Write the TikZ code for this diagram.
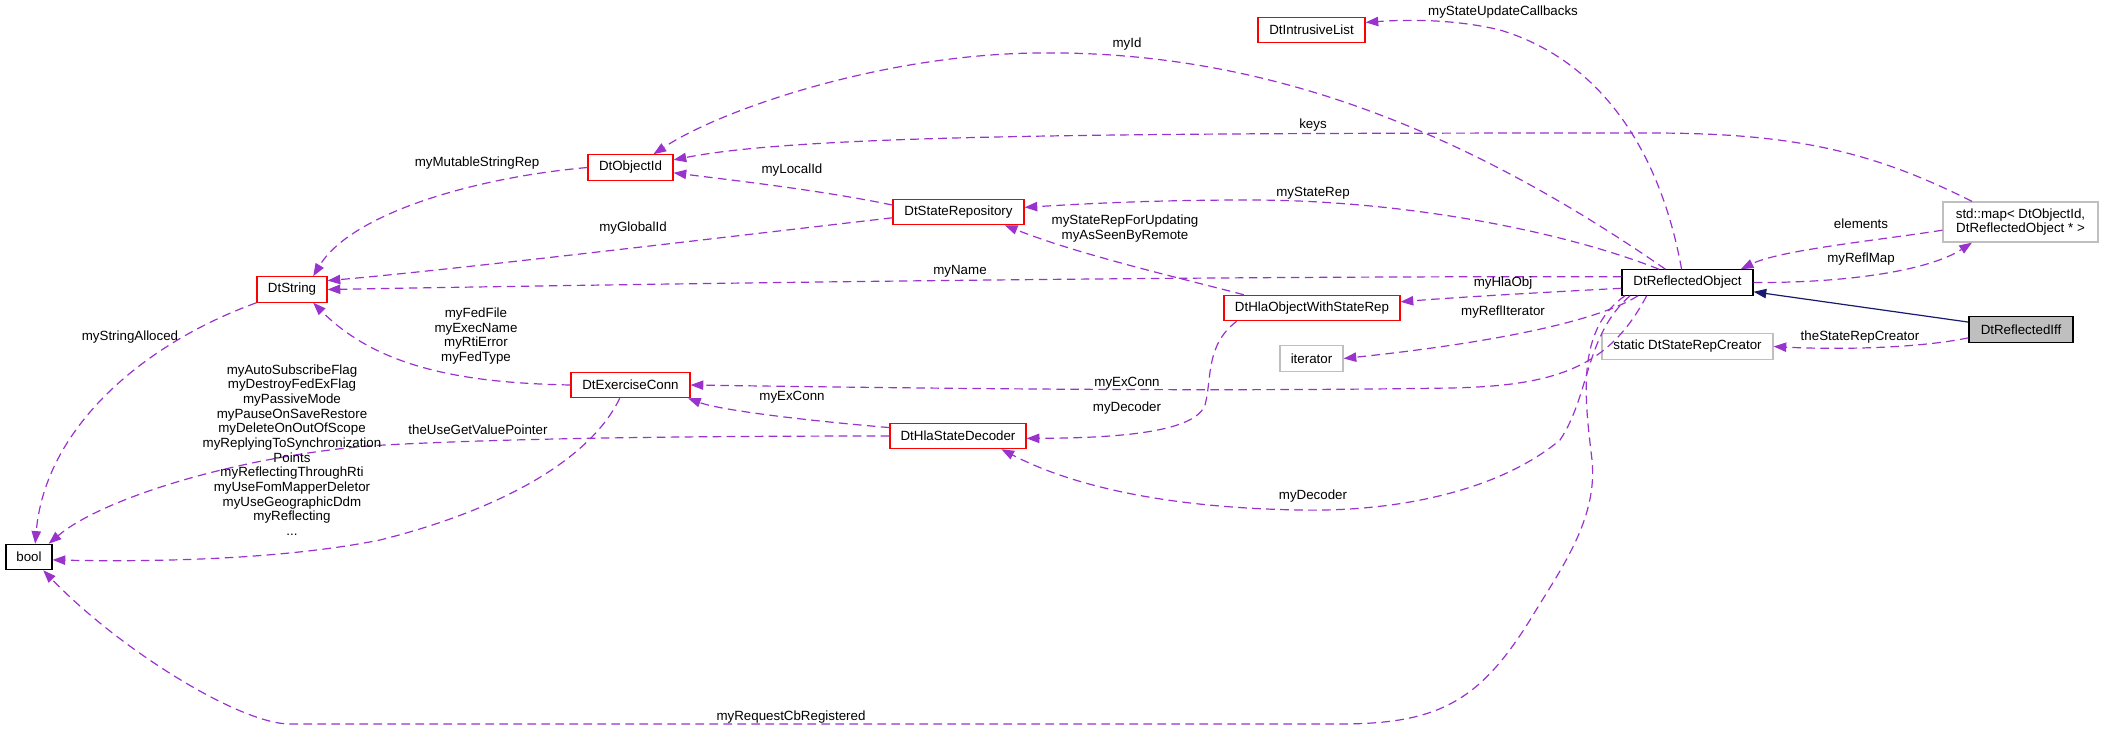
\documentclass[tikz,border=0pt]{standalone}
\usepackage{fontspec}
\setmainfont{Liberation Sans}
\usetikzlibrary{arrows.meta}
\definecolor{edgepurple}{HTML}{9A32CD}
\definecolor{navyblue}{HTML}{191970}
\definecolor{boxgrey}{HTML}{BFBFBF}
\begin{document}
\begin{tikzpicture}[x=0.75pt,y=-0.75pt]
			\tikzstyle{cls}=[rectangle,draw=black,line width=0.9pt,minimum height=19pt,inner sep=2pt,font=\fontsize{10}{11}\selectfont]
			\tikzstyle{redcls}=[cls,draw=red]
			\tikzstyle{extcls}=[cls,draw=boxgrey]
			\tikzstyle{member}=[edgepurple,line width=0.9pt,dash pattern=on 6.5pt off 4pt,-{Triangle[length=9.5pt,width=7pt]}]
			\tikzstyle{derive}=[navyblue,line width=0.9pt,-{Triangle[length=9.5pt,width=7pt]}]
			\tikzstyle{lbl}=[inner sep=0pt,align=center,font=\fontsize{10}{11}\selectfont]
			\useasboundingbox (0,0) rectangle (2104,731);
			\begin{scope}
			\node[redcls,minimum width=80.25pt] (DtIntrusiveList) at (1311.5,30) {DtIntrusiveList};
			\node[redcls,minimum width=63.75pt] (DtObjectId) at (630.5,167.5) {DtObjectId};
			\node[redcls,minimum width=98.25pt] (DtStateRepository) at (958.5,212) {DtStateRepository};
			\node[redcls,minimum width=52.5pt] (DtString) at (292,289.5) {DtString};
			\node[cls,minimum width=98.25pt] (DtReflectedObject) at (1687.5,282.5) {DtReflectedObject};
			\node[extcls,minimum width=116.25pt,minimum height=30pt,align=center] (stdmap) at (2020.5,222) {std::map< DtObjectId,\\DtReflectedObject * >};
			\node[redcls,minimum width=132pt] (DtHlaObjectWithStateRep) at (1312,308) {DtHlaObjectWithStateRep};
			\node[extcls,minimum width=47.25pt] (iterator) at (1311.5,358.5) {iterator};
			\node[extcls,minimum width=128.25pt] (DtStateRepCreator) at (1687.5,346.5) {static DtStateRepCreator};
			\node[cls,fill=boxgrey,minimum width=78pt] (DtReflectedIff) at (2021,329.5) {DtReflectedIff};
			\node[redcls,minimum width=89.25pt] (DtExerciseConn) at (630.5,385) {DtExerciseConn};
			\node[redcls,minimum width=102pt] (DtHlaStateDecoder) at (958,436) {DtHlaStateDecoder};
			\node[cls,minimum width=34.5pt] (bool) at (29,557) {bool};
			\end{scope}
			
			\draw[member] (DtObjectId.west) .. controls (470,178) and (350,215) .. (DtString.32);
			\draw[member] (DtStateRepository.185) .. controls (700,240) and (450,270) .. (DtString.14);
			\draw[member] (DtReflectedObject.175) .. controls (1200,276) and (700,283) .. (DtString.east);
			\draw[member] (DtExerciseConn.west) .. controls (470,383) and (380,370) .. (DtString.-32);
			\draw[member] (DtString.south west) .. controls (140,345) and (45,430) .. (bool.65);
			\draw[member] (DtExerciseConn.-129) .. controls (590,460) and (500,510) .. (380,540) .. controls (280,560) and (150,562) .. (bool.-7);
			\draw[member] (DtHlaStateDecoder.west) .. controls (700,436) and (500,438) .. (367,446) .. controls (230,458) and (100,500) .. (bool.34);
			\draw[member] (DtHlaStateDecoder.173) .. controls (800,420) and (720,410) .. (DtExerciseConn.-13);
			\draw[member] (DtReflectedObject.198) .. controls (1610,365) and (1560,386) .. (1450,388) .. controls (1200,392) and (900,388) .. (DtExerciseConn.east);
			\draw[member] (DtReflectedObject.193) .. controls (1585,335) and (1590,395) .. (1560,440) .. controls (1500,490) and (1400,512) .. (1300,510) .. controls (1180,508) and (1080,490) .. (DtHlaStateDecoder.-17);
			\draw[member] (DtReflectedObject.192) .. controls (1575,330) and (1585,400) .. (1592,460) .. controls (1598,520) and (1560,570) .. (1530,620) .. controls (1480,700) and (1440,724) .. (1340,724) -- (290,724) .. controls (240,724) and (120,650) .. (bool.-43);
			\draw[member] (DtReflectedObject.195) .. controls (1600,320) and (1500,342) .. (iterator.east);
			\draw[member] (DtReflectedObject.185) .. controls (1550,292) and (1460,297) .. (DtHlaObjectWithStateRep.4);
			\draw[member] (DtHlaObjectWithStateRep.169) .. controls (1180,278) and (1080,255) .. (DtStateRepository.-16);
			\draw[member] (DtReflectedObject.155) .. controls (1560,230) and (1400,200) .. (1250,200) .. controls (1150,200) and (1080,204) .. (DtStateRepository.4);
			\draw[member] (DtReflectedObject.114) .. controls (1660,150) and (1600,60) .. (1500,30) .. controls (1450,18) and (1400,20) .. (DtIntrusiveList.8);
			\draw[member] (DtReflectedObject.149) .. controls (1450,120) and (1250,50) .. (1036,53) .. controls (880,55) and (720,110) .. (DtObjectId.30);
			\draw[member] (stdmap.157) .. controls (1870,150) and (1790,133) .. (1650,133) .. controls (1100,133) and (800,135) .. (DtObjectId.10);
			\draw[member] (stdmap.186) .. controls (1880,240) and (1780,250) .. (DtReflectedObject.14);
			\draw[member] (DtReflectedObject.east) .. controls (1850,283) and (1930,270) .. (stdmap.-157);
			\draw[derive] (DtReflectedIff.172) -- (DtReflectedObject.-8);
			\draw[member] (DtReflectedIff.189) .. controls (1920,348) and (1840,350) .. (DtStateRepCreator.east);
			\draw[member] (DtHlaObjectWithStateRep.190) .. controls (1205,345) and (1212,380) .. (1205,405) .. controls (1195,432) and (1120,438) .. (DtHlaStateDecoder.-2);
			\draw[member] (DtStateRepository.174) .. controls (820,190) and (730,180) .. (DtObjectId.-7);
			
			\node[lbl] (l-myMutableStringRep) at (477,163) {myMutableStringRep};
			\node[lbl] (l-myLocalId) at (792,170) {myLocalId};
			\node[lbl] (l-myGlobalId) at (633,228) {myGlobalId};
			\node[lbl] (l-myName) at (960,271) {myName};
			\node[lbl] (l-myId) at (1127,44) {myId};
			\node[lbl] (l-myStateUpdateCallbacks) at (1503,12) {myStateUpdateCallbacks};
			\node[lbl] (l-keys) at (1313,125) {keys};
			\node[lbl] (l-myStateRep) at (1313,193) {myStateRep};
			\node[lbl] (l-myStateRepForUpdating) at (1125,228.5) {myStateRepForUpdating\\myAsSeenByRemote};
			\node[lbl] (l-elements) at (1861,224) {elements};
			\node[lbl] (l-myReflMap) at (1861,259) {myReflMap};
			\node[lbl] (l-myHlaObj) at (1503,283) {myHlaObj};
			\node[lbl] (l-myReflIterator) at (1503,312) {myReflIterator};
			\node[lbl] (l-theStateRepCreator) at (1860,337) {theStateRepCreator};
			\node[lbl] (l-myExConn-a) at (1127,383) {myExConn};
			\node[lbl] (l-myDecoder-a) at (1127,408) {myDecoder};
			\node[lbl] (l-myExConn-b) at (792,397) {myExConn};
			\node[lbl] (l-myDecoder-b) at (1313,496) {myDecoder};
			\node[lbl] (l-myRequestCbRegistered) at (791,717) {myRequestCbRegistered};
			\node[lbl] (l-myStringAlloced) at (130,337) {myStringAlloced};
			\node[lbl] (l-myFedFile) at (476,336) {myFedFile\\myExecName\\myRtiError\\myFedType};
			\node[lbl] (l-theUseGetValuePointer) at (478,430) {theUseGetValuePointer};
			\node[lbl] (l-myAutoSubscribeFlag) at (292,450) {myAutoSubscribeFlag\\myDestroyFedExFlag\\myPassiveMode\\myPauseOnSaveRestore\\myDeleteOnOutOfScope\\myReplyingToSynchronization\\Points\\myReflectingThroughRti\\myUseFomMapperDeletor\\myUseGeographicDdm\\myReflecting\\...};
		\end{tikzpicture}
\end{document}
